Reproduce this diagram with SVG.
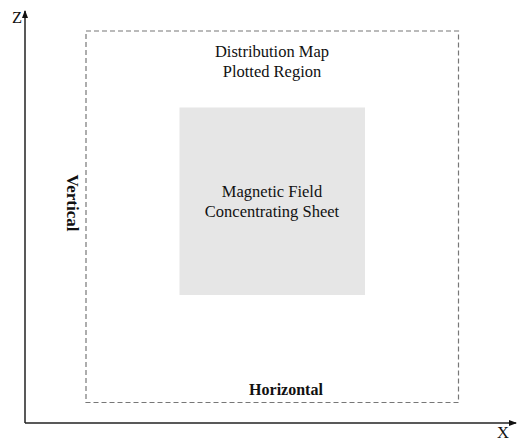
<svg xmlns="http://www.w3.org/2000/svg" width="517" height="441" viewBox="0 0 517 441">
<style>
.t{font-family:"Liberation Serif","Times New Roman",serif;font-size:16.5px;fill:#111;text-anchor:middle}
.b{font-weight:bold;font-size:16px}
.axis{stroke:#222;stroke-width:1.5;fill:none}
</style>
<defs>
<marker id="ah" markerWidth="8" markerHeight="8" refX="7" refY="4" orient="auto" markerUnits="userSpaceOnUse">
<path d="M0,1 L8,4 L0,7 Z" fill="#111"/>
</marker>
</defs>
<rect width="517" height="441" fill="#fff"/>
<g id="connectors">
<line class="axis" x1="25" y1="423" x2="25" y2="11" marker-end="url(#ah)"/>
<line class="axis" x1="25" y1="423" x2="516" y2="423" marker-end="url(#ah)"/>
</g>
<g id="plotted-region">
<rect x="86" y="31" width="372.5" height="371.5" fill="none" stroke="#777" stroke-width="1.2" stroke-dasharray="5,3"/>
<text class="t" x="272" y="57">Distribution Map</text>
<text class="t" x="272" y="77">Plotted Region</text>
</g>
<g id="sheet">
<rect x="179.5" y="107.5" width="185.5" height="187.5" fill="#e6e6e6"/>
<text class="t" x="272" y="197">Magnetic Field</text>
<text class="t" x="272" y="217">Concentrating Sheet</text>
</g>
<g id="labels">
<text class="t" x="17" y="23">Z</text>
<text class="t" x="503" y="438">X</text>
<text class="t b" x="286" y="395">Horizontal</text>
<text class="t b" style="font-size:17px" transform="translate(67,203) rotate(90)" x="0" y="0">Vertical</text>
</g>
</svg>
